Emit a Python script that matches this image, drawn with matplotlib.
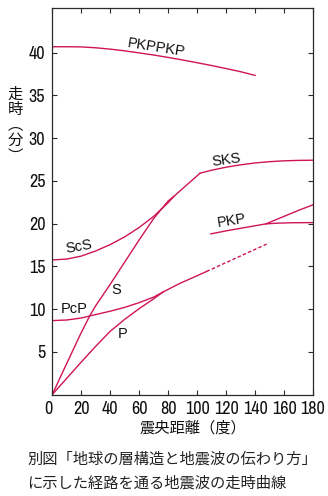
import matplotlib.pyplot as plt

# travel-time curves (deg, min)
pkppkp_x = [0, 10, 20, 30, 40, 50, 60, 70, 80, 90, 100, 110, 120, 130, 140]
pkppkp_y = [40.7, 40.7, 40.68, 40.58, 40.42, 40.22, 39.98, 39.73, 39.45, 39.15, 38.83, 38.5, 38.15, 37.78, 37.35]

s_x = [0, 10, 20, 26, 30, 40, 50, 60, 70, 80, 84, 102]
s_y = [0, 3.65, 7.25, 9.25, 10.4, 12.9, 15.5, 18.1, 20.6, 22.65, 23.2, 25.9]

scs_x = [0, 10, 20, 30, 40, 50, 60, 70, 80, 84]
scs_y = [15.75, 15.85, 16.2, 16.8, 17.55, 18.45, 19.55, 20.85, 22.45, 23.2]

sks_x = [102, 110, 120, 130, 140, 150, 160, 170, 180]
sks_y = [25.9, 26.25, 26.6, 26.88, 27.1, 27.25, 27.35, 27.4, 27.42]

p_x = [0, 10, 20, 30, 40, 50, 60, 70, 76.5, 88, 100, 106.5]
p_y = [0, 1.9, 3.8, 5.65, 7.4, 8.8, 10.05, 11.2, 12.0, 13.0, 13.9, 14.4]

pdiff_x = [106.5, 148]
pdiff_y = [14.4, 17.6]

pcp_x = [0, 10, 20, 26, 40, 50, 60, 70, 76.5]
pcp_y = [8.65, 8.72, 8.95, 9.2, 9.75, 10.2, 10.75, 11.4, 12.0]

pkp_x = [109.5, 120, 130, 140, 147.5]
pkp_y = [18.8, 19.15, 19.45, 19.75, 19.97]
pkp_up_x = [147.5, 160, 170, 180]
pkp_up_y = [19.97, 20.85, 21.55, 22.2]
pkp_lo_x = [147.5, 155, 165, 180]
pkp_lo_y = [19.97, 20.05, 20.1, 20.12]

# label text, position, rotation
labels = [("PKPPKP", 72, 40.55, -9), ("SKS", 120, 27.4, 8), ("PKP", 124, 20.3, 9),
          ("ScS", 18.4, 17.3, 10), ("S", 44.4, 12.2, 0), ("PcP", 15.1, 10.0, 0),
          ("P", 48.9, 7.1, 0)]

xticks = [0, 20, 40, 60, 80, 100, 120, 140, 160, 180]
yticks = [5, 10, 15, 20, 25, 30, 35, 40]

col = '#d0145a'
ink = '#2a2a2a'

fig = plt.figure(figsize=(3.28, 4.96), dpi=100)
fig.patch.set_facecolor('white')
ax = fig.add_axes([52.3 / 328, 1 - 394.5 / 496, (313 - 52.3) / 328, (394.5 - 8.3) / 496])

lw = 1.0
ax.plot(pkppkp_x, pkppkp_y, color=col, lw=lw)
ax.plot(s_x, s_y, color=col, lw=lw)
ax.plot(scs_x, scs_y, color=col, lw=lw)
ax.plot(sks_x, sks_y, color=col, lw=lw)
ax.plot(p_x, p_y, color=col, lw=lw)
ax.plot(pdiff_x, pdiff_y, color=col, lw=lw, dashes=(2.5, 1.6))
ax.plot(pcp_x, pcp_y, color=col, lw=lw)
ax.plot(pkp_x, pkp_y, color=col, lw=lw)
ax.plot(pkp_up_x, pkp_up_y, color=col, lw=lw)
ax.plot(pkp_lo_x, pkp_lo_y, color=col, lw=lw)

for txt, x, y, rot in labels:
    ax.text(x, y, txt, ha='center', va='center', rotation=rot, rotation_mode='anchor',
            fontsize=10.5, family='Liberation Sans', color='#111111')

ax.set_xlim(0, 180)
ax.set_ylim(0, 45.2)
ax.set_xticks(xticks)
ax.set_yticks(yticks)
ax.tick_params(direction='in', length=3.5, width=0.8, color=ink, top=True, right=True)
ax.tick_params(axis='x', pad=4.5, labelsize=13, labelcolor='#111111')
ax.tick_params(axis='y', pad=5, labelsize=13, labelcolor='#111111')
for lab in ax.get_xticklabels() + ax.get_yticklabels():
    lab.set_family(['Archivo Narrow', 'DejaVu Sans'])
ax.get_xticklabels()[0].set_ha('right')
for sp in ax.spines.values():
    sp.set_color(ink)
    sp.set_linewidth(0.9)

cjk = ['Noto Sans CJK JP', 'DejaVu Sans']
fig.text(192.5 / 328, 1 - 428.5 / 496, '震央距離（度）', ha='center', va='center',
         fontsize=11, family=cjk, color='#111111')
fig.text(15 / 328, 1 - 125 / 496, '走\n時\n︵\n分\n︶', ha='center', va='center',
         fontsize=11, family=cjk, color='#111111', linespacing=0.88)
fig.text(27 / 328, 1 - 459 / 496, '別図「地球の層構造と地震波の伝わり方」', ha='left', va='center',
         fontsize=11, family=cjk, color='#222222')
fig.text(27 / 328, 1 - 483 / 496, 'に示した経路を通る地震波の走時曲線', ha='left', va='center',
         fontsize=11, family=cjk, color='#222222')

fig.savefig('out.png', dpi=100)
